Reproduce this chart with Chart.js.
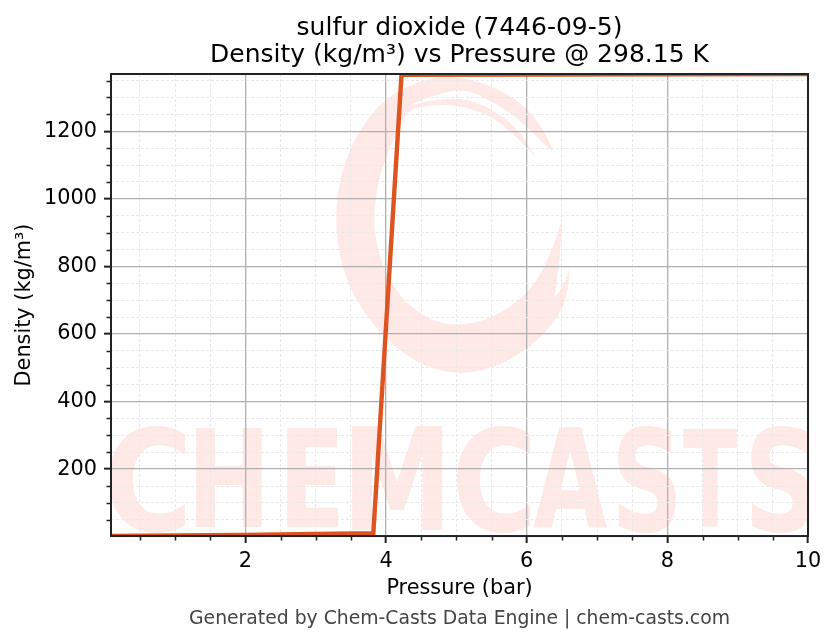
<!DOCTYPE html>
<html>
<head>
<meta charset="utf-8">
<style>
  html, body { margin: 0; padding: 0; background: #fff; }
  #wrap { width: 836px; height: 644px; }
</style>
</head>
<body>
<div id="wrap"><canvas id="chart" width="836" height="644"></canvas></div>
<script src="https://cdn.jsdelivr.net/npm/chart.js@4"></script>
<script>
const pressures = [0.09, 1, 2, 3, 3.82, 4.22, 6, 8, 10];
const densities = [2, 3.4, 5.2, 7.9, 10.4, 1367, 1368, 1368.5, 1369.5];
const xMajorTicks = [2, 4, 6, 8, 10];
const xMinorTicks = [0.5, 1, 1.5, 2.5, 3, 3.5, 4.5, 5, 5.5, 6.5, 7, 7.5, 8.5, 9, 9.5];
const yMajorTicks = [200, 400, 600, 800, 1000, 1200];
const yMinorTicks = [50, 100, 150, 250, 300, 350, 450, 500, 550, 650, 700, 750, 850, 900, 950, 1050, 1100, 1150, 1250, 1300, 1350];
const titleLines = ['sulfur dioxide (7446-09-5)', 'Density (kg/m³) vs Pressure @ 298.15 K'];
const footerText = 'Generated by Chem-Casts Data Engine | chem-casts.com';
const font = '"DejaVu Sans"';
const pale = '#ffe9e6';

// watermark outline and letters, in page pixels
const ringOutline = [[700,240],[700,240],[660,160],[600,95],[510,44],[400,18],[300,30],[195,84],[112,186],[62,310],[44,440],[62,585],[114,705],[205,817],[308,888],[410,914],[525,893],[625,836],[706,755],[741,684],[750,590],[750,590],[735,640],[700,690],[710,640],[720,560],[725,450],[725,450],[700,530],[650,640],[580,706],[500,750],[420,767],[340,755],[262,704],[204,626],[170,530],[160,440],[175,330],[205,240],[245,160],[270,115],[340,105],[410,105],[500,130],[580,190],[650,265],[650,265],[590,170],[510,115],[450,90],[400,85],[330,92],[265,108],[265,108],[340,75],[430,55],[520,95],[600,150],[690,240]]
  .map(p => [320 + p[0] / 3, 70 + p[1] / 3]);
const markLetters = [
  ['C', 108, 185, 425, 532], ['H', 196, 262, 428, 527], ['E', 287, 338, 428, 527],
  ['M', 352, 443, 426, 530], ['C', 456, 530, 425, 532], ['A', 533, 607, 426, 528],
  ['S', 618, 676, 425, 532], ['T', 683, 737, 428, 527], ['S', 751, 812, 425, 532]
];

function allTicks(major, minor) {
  return major.map(v => ({ value: v, major: true })).concat(minor.map(v => ({ value: v, major: false })))
    .sort((a, b) => a.value - b.value);
}

// faint logo behind the grid
const watermark = {
  id: 'watermark',
  beforeDraw(chart) {
    const { ctx, chartArea: a } = chart;
    ctx.save();
    ctx.beginPath();
    ctx.rect(a.left, a.top, a.width, a.height);
    ctx.clip();
    ctx.fillStyle = pale;
    ctx.beginPath();
    ringOutline.forEach((p, i) => {
      const next = ringOutline[(i + 1) % ringOutline.length];
      const mx = (p[0] + next[0]) / 2, my = (p[1] + next[1]) / 2;
      if (i === 0) ctx.moveTo(mx, my);
      else ctx.quadraticCurveTo(p[0], p[1], mx, my);
    });
    ctx.closePath();
    ctx.fill();
    ctx.font = 'bold 100px ' + font;
    ctx.textBaseline = 'alphabetic';
    markLetters.forEach(([ch, left, right, top, bottom]) => {
      const m = ctx.measureText(ch);
      const w = m.actualBoundingBoxRight + m.actualBoundingBoxLeft;
      const h = m.actualBoundingBoxAscent + m.actualBoundingBoxDescent;
      ctx.save();
      ctx.translate(left, top);
      ctx.scale((right - left) / w, (bottom - top) / h);
      ctx.fillText(ch, m.actualBoundingBoxLeft, m.actualBoundingBoxAscent);
      ctx.restore();
    });
    ctx.restore();
  }
};

// minor tick marks and the box around the plot
const frame = {
  id: 'frame',
  afterDraw(chart) {
    const { ctx, chartArea: a, scales } = chart;
    ctx.save();
    ctx.strokeStyle = '#222';
    ctx.lineWidth = 1.5;
    ctx.beginPath();
    xMinorTicks.forEach(v => {
      const x = Math.round(scales.x.getPixelForValue(v)) + 0.5;
      ctx.moveTo(x, a.bottom);
      ctx.lineTo(x, a.bottom + 4.5);
    });
    yMinorTicks.forEach(v => {
      const y = Math.round(scales.y.getPixelForValue(v)) + 0.5;
      ctx.moveTo(a.left, y);
      ctx.lineTo(a.left - 4.5, y);
    });
    ctx.stroke();
    ctx.lineWidth = 2;
    ctx.strokeRect(a.left, a.top, a.width, a.height);
    ctx.restore();
  }
};

function axisOptions(min, max, major, minor, label, titlePadding, size, tickPadding) {
  return {
    type: 'linear',
    min: min,
    max: max,
    title: { display: true, text: label, color: '#000', padding: titlePadding, font: { family: font, size: 20.8 } },
    afterBuildTicks: scale => { scale.ticks = allTicks(major, minor); },
    afterFit: size,
    ticks: {
      autoSkip: false,
      maxRotation: 0,
      color: '#000',
      font: { family: font, size: 20.8 },
      padding: tickPadding,
      callback: v => (major.includes(v) ? String(v) : '')
    },
    grid: {
      drawTicks: true,
      tickLength: 7,
      tickWidth: 2,
      tickColor: c => (c.tick && c.tick.major ? '#222' : 'rgba(0,0,0,0)'),
      color: c => (c.tick && c.tick.major ? '#b0b0b0' : '#e9e9e9'),
      lineWidth: c => (c.tick && c.tick.major ? 1.3 : 1)
    },
    border: {
      display: false,
      dash: c => (c.tick && c.tick.major ? [] : [3, 2])
    }
  };
}

new Chart(document.getElementById('chart'), {
  type: 'line',
  data: {
    labels: pressures,
    datasets: [{
      data: pressures.map((p, i) => ({ x: p, y: densities[i] })),
      borderColor: '#de5420',
      borderWidth: 4.4,
      pointRadius: 0,
      tension: 0,
      clip: 0,
      borderJoinStyle: 'miter'
    }]
  },
  options: {
    responsive: false,
    animation: false,
    layout: { padding: { left: 0, right: 28, top: 0, bottom: 0 } },
    plugins: {
      legend: { display: false },
      tooltip: { enabled: false },
      title: {
        display: true,
        fullSize: false,
        text: titleLines,
        color: '#000',
        font: { family: font, size: 25, weight: 'normal', lineHeight: 1.08 },
        padding: { top: 15, bottom: 5 }
      },
      subtitle: {
        display: true,
        fullSize: false,
        position: 'bottom',
        text: footerText,
        color: '#444',
        font: { family: font, size: 18.8, weight: 'normal', lineHeight: 1.2 },
        padding: { top: 0, bottom: 14 }
      }
    },
    scales: {
      x: axisOptions(0.09, 10, xMajorTicks, xMinorTicks, 'Pressure (bar)', { top: 0, bottom: 6 }, s => { s.height = 71.4; }, 6),
      y: axisOptions(2, 1369.5, yMajorTicks, yMinorTicks, 'Density (kg/m³)', { top: 12, bottom: 0 }, s => { s.width = 111; }, 7)
    }
  },
  plugins: [watermark, frame]
});
</script>
</body>
</html>
